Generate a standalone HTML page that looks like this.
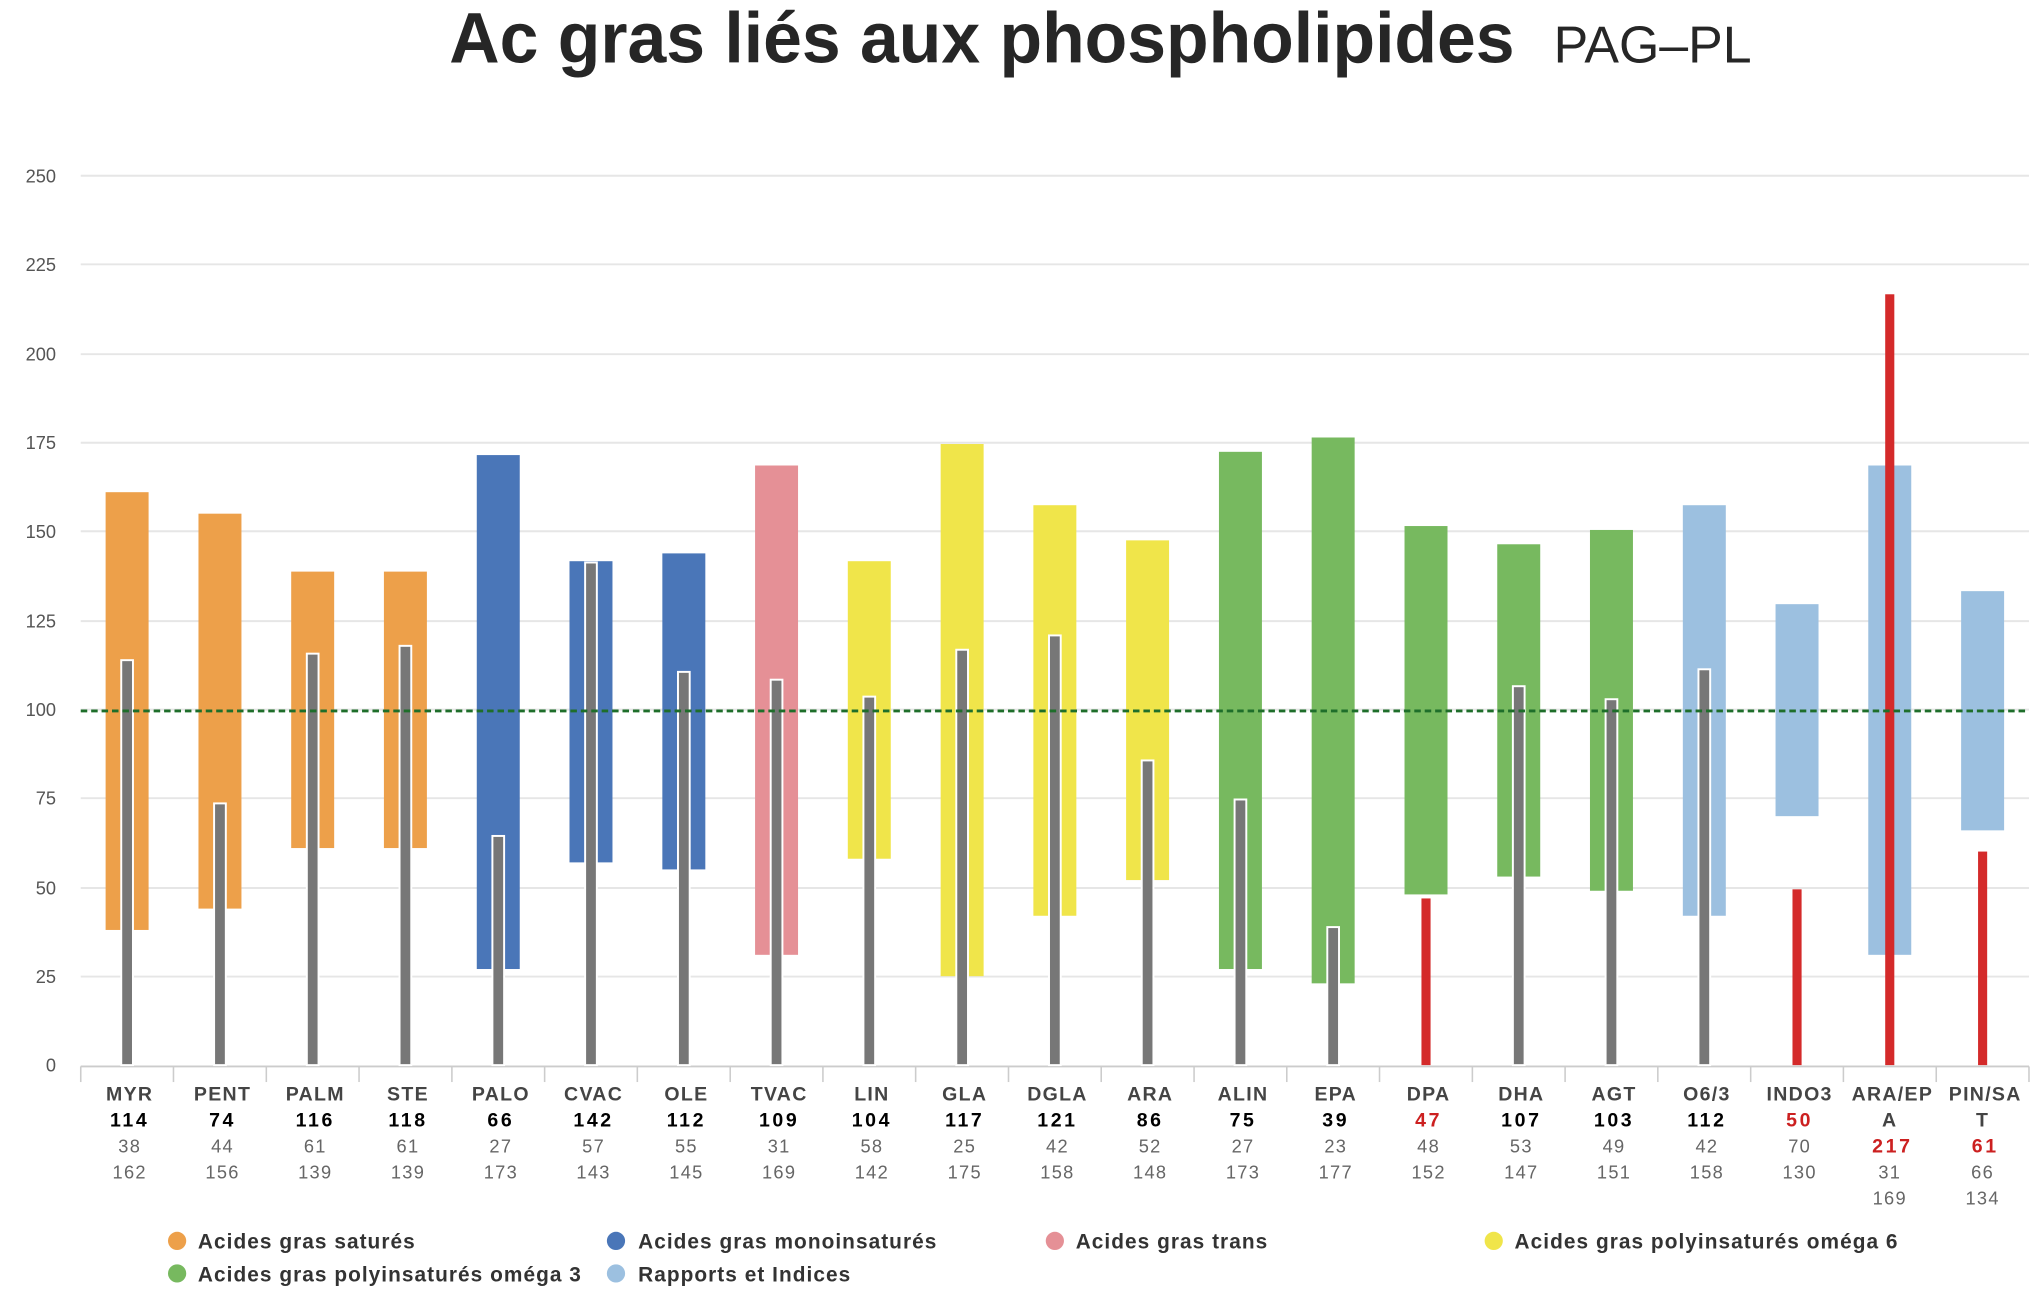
<!DOCTYPE html>
<html><head><meta charset="utf-8"><style>html,body{margin:0;padding:0;background:#fff}svg{display:block}</style></head>
<body>
<svg width="2042" height="1306" viewBox="0 0 1568 1003" preserveAspectRatio="none" xmlns="http://www.w3.org/2000/svg" font-family="Liberation Sans, sans-serif">
<rect width="1568" height="1003" fill="#fff"/>
<text x="345" y="48" font-size="55" font-weight="bold" fill="#262626" textLength="818" lengthAdjust="spacingAndGlyphs">Ac gras liés aux phospholipides</text>
<text x="1193" y="48" font-size="40" fill="#262626" textLength="152" lengthAdjust="spacingAndGlyphs">PAG–PL</text>
<g stroke="#e6e6e6" stroke-width="1.5">
<line x1="62" y1="135" x2="1558" y2="135"/><line x1="62" y1="203" x2="1558" y2="203"/><line x1="62" y1="272" x2="1558" y2="272"/><line x1="62" y1="340" x2="1558" y2="340"/><line x1="62" y1="408" x2="1558" y2="408"/><line x1="62" y1="477" x2="1558" y2="477"/><line x1="62" y1="545" x2="1558" y2="545"/><line x1="62" y1="613" x2="1558" y2="613"/><line x1="62" y1="682" x2="1558" y2="682"/><line x1="62" y1="750" x2="1558" y2="750"/>
</g>
<g font-size="14" fill="#555" text-anchor="end">
<text x="43" y="140">250</text><text x="43" y="208">225</text><text x="43" y="277">200</text><text x="43" y="345">175</text><text x="43" y="413">150</text><text x="43" y="482">125</text><text x="43" y="550">100</text><text x="43" y="618">75</text><text x="43" y="687">50</text><text x="43" y="755">25</text><text x="43" y="823">0</text>
</g>
<line x1="62" y1="819" x2="1558" y2="819" stroke="#ccc" stroke-width="1.5"/>
<g stroke="#ccc" stroke-width="1.2">
<line x1="62" y1="819" x2="62" y2="831"/><line x1="133.2" y1="819" x2="133.2" y2="831"/><line x1="204.5" y1="819" x2="204.5" y2="831"/><line x1="275.7" y1="819" x2="275.7" y2="831"/><line x1="347" y1="819" x2="347" y2="831"/><line x1="418.2" y1="819" x2="418.2" y2="831"/><line x1="489.4" y1="819" x2="489.4" y2="831"/><line x1="560.7" y1="819" x2="560.7" y2="831"/><line x1="631.9" y1="819" x2="631.9" y2="831"/><line x1="703.1" y1="819" x2="703.1" y2="831"/><line x1="774.4" y1="819" x2="774.4" y2="831"/><line x1="845.6" y1="819" x2="845.6" y2="831"/><line x1="916.9" y1="819" x2="916.9" y2="831"/><line x1="988.1" y1="819" x2="988.1" y2="831"/><line x1="1059.3" y1="819" x2="1059.3" y2="831"/><line x1="1130.6" y1="819" x2="1130.6" y2="831"/><line x1="1201.8" y1="819" x2="1201.8" y2="831"/><line x1="1273" y1="819" x2="1273" y2="831"/><line x1="1344.3" y1="819" x2="1344.3" y2="831"/><line x1="1415.5" y1="819" x2="1415.5" y2="831"/><line x1="1486.8" y1="819" x2="1486.8" y2="831"/><line x1="1558" y1="819" x2="1558" y2="831"/>
</g>
<!-- range bars -->
<g>
<rect x="81.1" y="378" width="33" height="336.2" fill="#eda04a"/>
<rect x="152.4" y="394.5" width="33" height="303.3" fill="#eda04a"/>
<rect x="223.6" y="439" width="33" height="212.3" fill="#eda04a"/>
<rect x="294.8" y="439" width="33" height="212.3" fill="#eda04a"/>
<rect x="366.1" y="349.5" width="33" height="394.7" fill="#4a76b8"/>
<rect x="437.3" y="431" width="33" height="231.3" fill="#4a76b8"/>
<rect x="508.6" y="425" width="33" height="242.7" fill="#4a76b8"/>
<rect x="579.8" y="357.5" width="33" height="375.8" fill="#e59096"/>
<rect x="651" y="431" width="33" height="228.5" fill="#f0e54a"/>
<rect x="722.3" y="341" width="33" height="408.7" fill="#f0e54a"/>
<rect x="793.5" y="388" width="33" height="315.3" fill="#f0e54a"/>
<rect x="864.7" y="415" width="33" height="260.9" fill="#f0e54a"/>
<rect x="936" y="347" width="33" height="397.2" fill="#77b95f"/>
<rect x="1007.2" y="336" width="33" height="419.2" fill="#77b95f"/>
<rect x="1078.5" y="404" width="33" height="282.9" fill="#77b95f"/>
<rect x="1149.7" y="418" width="33" height="255.2" fill="#77b95f"/>
<rect x="1220.9" y="407" width="33" height="277.1" fill="#77b95f"/>
<rect x="1292.2" y="388" width="33" height="315.3" fill="#9cc0e0"/>
<rect x="1363.4" y="464" width="33" height="162.8" fill="#9cc0e0"/>
<rect x="1434.6" y="357.5" width="33" height="375.8" fill="#9cc0e0"/>
<rect x="1505.9" y="454" width="33" height="183.7" fill="#9cc0e0"/>
</g>
<!-- value bars -->
<g fill="#777" stroke="#fff" stroke-width="1.5">
<rect x="93.1" y="507" width="9" height="311"/>
<rect x="164.4" y="617" width="9" height="201"/>
<rect x="235.6" y="502" width="9" height="316"/>
<rect x="306.8" y="496" width="9" height="322"/>
<rect x="378.1" y="642" width="9" height="176"/>
<rect x="449.3" y="432" width="9" height="386"/>
<rect x="520.6" y="516" width="9" height="302"/>
<rect x="591.8" y="522" width="9" height="296"/>
<rect x="663" y="535" width="9" height="283"/>
<rect x="734.3" y="499" width="9" height="319"/>
<rect x="805.5" y="488" width="9" height="330"/>
<rect x="876.7" y="584" width="9" height="234"/>
<rect x="948" y="614" width="9" height="204"/>
<rect x="1019.2" y="712" width="9" height="106"/>
<rect x="1161.7" y="527" width="9" height="291"/>
<rect x="1232.9" y="537" width="9" height="281"/>
<rect x="1304.2" y="514" width="9" height="304"/>
</g>
<g fill="#d42a2a">
<rect x="1091.5" y="690" width="7" height="128"/>
<rect x="1376.4" y="683" width="7" height="135"/>
<rect x="1447.6" y="226" width="7" height="592"/>
<rect x="1518.9" y="654" width="7" height="164"/>
</g>
<line x1="62" y1="546" x2="1558" y2="546" stroke="#1e6e2a" stroke-width="2.2" stroke-dasharray="5,3"/>
<!-- labels -->
<g font-size="15" font-weight="bold" fill="#444" text-anchor="middle" letter-spacing="1">
<text x="99.6" y="845">MYR</text><text x="170.9" y="845">PENT</text><text x="242.1" y="845">PALM</text><text x="313.3" y="845">STE</text><text x="384.6" y="845">PALO</text><text x="455.8" y="845">CVAC</text><text x="527.1" y="845">OLE</text><text x="598.3" y="845">TVAC</text><text x="669.5" y="845">LIN</text><text x="740.8" y="845">GLA</text><text x="812" y="845">DGLA</text><text x="883.2" y="845">ARA</text><text x="954.5" y="845">ALIN</text><text x="1025.7" y="845">EPA</text><text x="1097" y="845">DPA</text><text x="1168.2" y="845">DHA</text><text x="1239.4" y="845">AGT</text><text x="1310.7" y="845">O6/3</text><text x="1381.9" y="845">INDO3</text><text x="1453.1" y="845">ARA/EP</text><text x="1524.4" y="845">PIN/SA</text>
<text x="1451.1" y="865">A</text><text x="1522.4" y="865">T</text>
</g>
<g font-size="15" font-weight="bold" fill="#000" text-anchor="middle" letter-spacing="2">
<text x="99.6" y="865">114</text><text x="170.9" y="865">74</text><text x="242.1" y="865">116</text><text x="313.3" y="865">118</text><text x="384.6" y="865">66</text><text x="455.8" y="865">142</text><text x="527.1" y="865">112</text><text x="598.3" y="865">109</text><text x="669.5" y="865">104</text><text x="740.8" y="865">117</text><text x="812" y="865">121</text><text x="883.2" y="865">86</text><text x="954.5" y="865">75</text><text x="1025.7" y="865">39</text><text x="1168.2" y="865">107</text><text x="1239.4" y="865">103</text><text x="1310.7" y="865">112</text>
<g fill="#cc2020"><text x="1097" y="865">47</text><text x="1381.9" y="865">50</text><text x="1453.1" y="885">217</text><text x="1524.4" y="885">61</text></g>
</g>
<g font-size="14" fill="#666" text-anchor="middle" letter-spacing="1">
<text x="99.6" y="885">38</text><text x="170.9" y="885">44</text><text x="242.1" y="885">61</text><text x="313.3" y="885">61</text><text x="384.6" y="885">27</text><text x="455.8" y="885">57</text><text x="527.1" y="885">55</text><text x="598.3" y="885">31</text><text x="669.5" y="885">58</text><text x="740.8" y="885">25</text><text x="812" y="885">42</text><text x="883.2" y="885">52</text><text x="954.5" y="885">27</text><text x="1025.7" y="885">23</text><text x="1097" y="885">48</text><text x="1168.2" y="885">53</text><text x="1239.4" y="885">49</text><text x="1310.7" y="885">42</text><text x="1381.9" y="885">70</text>
<text x="99.6" y="905">162</text><text x="170.9" y="905">156</text><text x="242.1" y="905">139</text><text x="313.3" y="905">139</text><text x="384.6" y="905">173</text><text x="455.8" y="905">143</text><text x="527.1" y="905">145</text><text x="598.3" y="905">169</text><text x="669.5" y="905">142</text><text x="740.8" y="905">175</text><text x="812" y="905">158</text><text x="883.2" y="905">148</text><text x="954.5" y="905">173</text><text x="1025.7" y="905">177</text><text x="1097" y="905">152</text><text x="1168.2" y="905">147</text><text x="1239.4" y="905">151</text><text x="1310.7" y="905">158</text><text x="1381.9" y="905">130</text>
<text x="1451.1" y="905">31</text><text x="1522.4" y="905">66</text><text x="1451.1" y="925">169</text><text x="1522.4" y="925">134</text>
</g>
<!-- legend -->
<g font-size="16" font-weight="bold" fill="#333" letter-spacing="0.8">
<circle cx="136" cy="953" r="7" fill="#eda04a"/><text x="152" y="959">Acides gras saturés</text>
<circle cx="473" cy="953" r="7" fill="#4a76b8"/><text x="490" y="959">Acides gras monoinsaturés</text>
<circle cx="810" cy="953" r="7" fill="#e59096"/><text x="826" y="959">Acides gras trans</text>
<circle cx="1147" cy="953" r="7" fill="#f0e54a"/><text x="1163" y="959">Acides gras polyinsaturés oméga 6</text>
<circle cx="136" cy="978" r="7" fill="#77b95f"/><text x="152" y="984">Acides gras polyinsaturés oméga 3</text>
<circle cx="473" cy="978" r="7" fill="#9cc0e0"/><text x="490" y="984">Rapports et Indices</text>
</g>
</svg>
</body></html>
